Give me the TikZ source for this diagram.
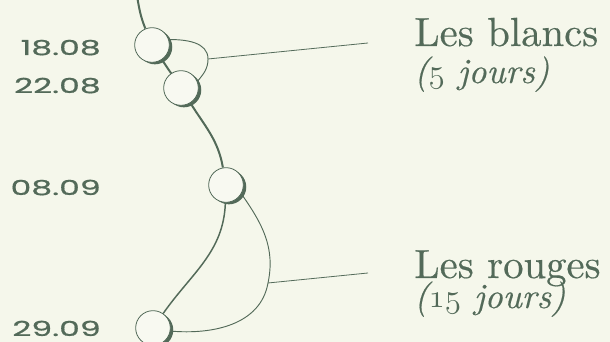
\documentclass[tikz,border=0pt]{standalone}
\usepackage{fontspec}
\newfontfamily\datefont[FakeStretch=1.6, FakeBold=0.8]{Poppins}
\newfontfamily\labelfont{lmroman10}[Extension=.otf, UprightFont=*-regular, ItalicFont=*-italic, FakeBold=0.4]
\usetikzlibrary{shadows,backgrounds}
\definecolor{paper}{HTML}{F5F7EB}
\definecolor{ink}{HTML}{536A59}
\definecolor{disc}{HTML}{F8F9F1}
\pgfdeclarelayer{wires}
\pgfsetlayers{background,wires,main}
\newcommand\osnum[1]{{\usefont{OML}{cmm}{m}{it}#1}}

\begin{document}
\begin{tikzpicture}[
            x=0.75pt, y=0.75pt,
            stop/.style={circle, draw=ink, line width=0.6pt, fill=disc, minimum size=26pt, inner sep=0pt,
                drop shadow={shadow xshift=2.2pt, shadow yshift=-1.5pt, fill=ink, opacity=1}},
            spine/.style={draw=ink, line width=1.5pt},
            branch/.style={draw=ink, line width=1.1pt},
            brace/.style={draw=ink, line width=0.7pt},
            leader/.style={draw=ink, line width=0.6pt},
            date/.style={anchor=base east, text=ink, inner sep=0pt, font=\datefont\fontsize{15.5}{16}\selectfont},
            title/.style={anchor=base west, text=ink, inner sep=0pt, font=\labelfont\fontsize{30.5}{31}\selectfont},
            span/.style={title, font=\labelfont\fontsize{26.5}{27}\selectfont\itshape}
        ]
            % paper
            \begin{pgfonlayer}{background}
                \fill[paper] (0,0) rectangle (610,342);
            \end{pgfonlayer}
            \useasboundingbox (0,0) rectangle (610,342);

            % stops on the line
            \node[stop] (c1) at (152,297) {};
            \node[stop] (c2) at (181,254) {};
            \node[stop] (c3) at (226,157) {};
            \node[stop] (c4) at (153,14) {};
            \coordinate (top) at (137,346);

            % dates
            \node[date] (d1) at (101,287) {18.08};
            \node[date] (d2) at (101,249) {22.08};
            \node[date] (d3) at (101,147) {08.09};
            \node[date] (d4) at (101,6) {29.09};

            % labels
            \node[title] (blancs) at (414,296) {Les blancs};
            \node[span] (blancsd) at (414,259) {(\osnum{5} jours)};
            \node[title] (rouges) at (414,64) {Les rouges};
            \node[span] (rougesd) at (414,34) {(\osnum{15} jours)};

            \coordinate (b1) at (208,283);
            \coordinate (e1) at (368,299);
            \coordinate (b2) at (268,59);
            \coordinate (e2) at (368,69);

            \begin{pgfonlayer}{wires}
                % the line
                \draw[spine] (top) to[out=-80, in=112] (c1);
                \draw[spine] (c1) -- (c2);
                \draw[spine] (c2) to[out=-58, in=100] (c3);
                \draw[branch] (c3) to[out=-92, in=55] (c4);
                % brackets
                \draw[brace] (c1.18) to[out=0, in=90] (b1) to[out=-90, in=50] (c2.22);
                \draw[brace] (c3.-30) to[out=-55, in=78] (b2) to[out=-100, in=-5] (c4.-10);
                \draw[leader] (b1) -- (e1);
                \draw[leader] (b2) -- (e2);
            \end{pgfonlayer}
        \end{tikzpicture}
\end{document}
